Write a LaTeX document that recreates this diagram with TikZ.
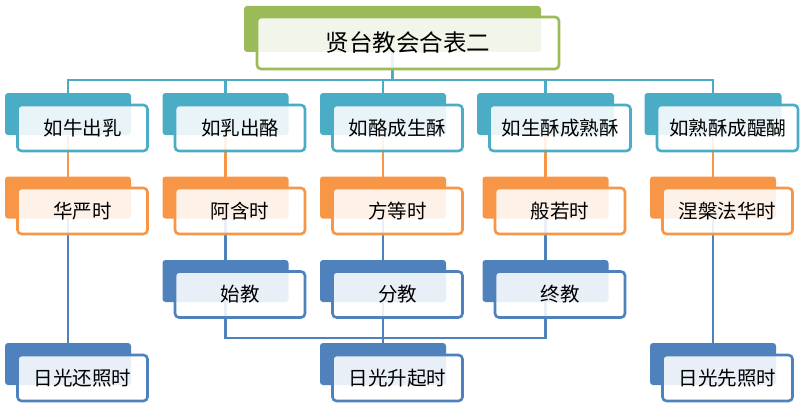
\documentclass[tikz,border=0pt]{standalone}
\usepackage{fontspec}
\newfontfamily\cjk{Noto Sans CJK SC}
\usetikzlibrary{backgrounds}
\definecolor{cteal}{HTML}{4BACC6}
\definecolor{corange}{HTML}{F79646}
\definecolor{cblue}{HTML}{4F81BD}
\definecolor{cgreen}{HTML}{9BBB59}
\begin{document}
\begin{tikzpicture}[x=1pt,y=-1pt,
  tabbox/.style={fill=#1, draw=none, rounded corners=3pt, minimum height=42pt, inner sep=0pt},
  frontbox/.style={draw=#1, fill=white, fill opacity=0.88, text opacity=1, line width=2.6pt,
    rounded corners=4pt, minimum height=46pt, inner sep=0pt, font=\cjk\fontsize{19.5}{22}\selectfont},
  link/.style={draw=#1, line width=2.6pt}]
\useasboundingbox (0,0) rectangle (800,412);
% title
\node[tabbox=cgreen, minimum width=297pt, minimum height=46pt] (tt) at (392.5,29) {};
\node[frontbox=cgreen, minimum width=302pt, minimum height=52pt,
  font=\cjk\fontsize{23.5}{26}\selectfont] (title) at ([shift={(15.5,14)}]tt.center) {贤台教会合表二};
% top row
\foreach \i/\x/\w/\t in {1/68/126/如牛出乳,2/225.5/126/如乳出酪,3/383/126/如酪成生酥,4/545.5/137/如生酥成熟酥,5/713/137/如熟酥成醍醐}{
  \node[tabbox=cteal, minimum width=\w*1pt] (ta\i) at (\x,114) {};
  \node[frontbox=cteal, minimum width={(\w+4)*1pt}] (a\i) at ([shift={(14.5,14)}]ta\i.center) {\t};
}
% orange row
\foreach \i/\x/\t in {1/68/华严时,2/225.5/阿含时,3/383/方等时,4/545.5/般若时,5/713/涅槃法华时}{
  \node[tabbox=corange, minimum width=126pt] (tb\i) at (\x,197.5) {};
  \node[frontbox=corange, minimum width=130pt] (b\i) at ([shift={(14.5,13.5)}]tb\i.center) {\t};
}
% blue middle row
\foreach \i/\x/\t in {2/225.5/始教,3/383/分教,4/545.5/终教}{
  \node[tabbox=cblue, minimum width=126pt] (tc\i) at (\x,281) {};
  \node[frontbox=cblue, minimum width=130pt] (c\i) at ([shift={(14.5,13.5)}]tc\i.center) {\t};
}
% bottom row
\foreach \i/\x/\t in {1/68/日光还照时,3/383/日光升起时,5/713/日光先照时}{
  \node[tabbox=cblue, minimum width=126pt] (td\i) at (\x,364) {};
  \node[frontbox=cblue, minimum width=130pt] (d\i) at ([shift={(14.5,14)}]td\i.center) {\t};
}
\begin{pgfonlayer}{background}
  \coordinate (bus) at (392.5,80);
  \draw[link=cteal] (tt.center) -- (bus);
  \foreach \i in {1,...,5}{
    \draw[link=cteal] (ta\i.center) |- (bus);
    \draw[link=corange] (ta\i.center) -- (tb\i.center);
  }
  \draw[link=cblue] (tb1.center) -- (td1.center);
  \draw[link=cblue] (tb5.center) -- (td5.center);
  \foreach \i in {2,3,4}{
    \draw[link=cblue] (tb\i.center) -- (tc\i.center);
  }
  \coordinate (bk) at (383,338);
  \draw[link=cblue] (tc2.center) |- (bk);
  \draw[link=cblue] (tc4.center) |- (bk);
  \draw[link=cblue] (tc3.center) -- (td3.center);
\end{pgfonlayer}
\end{tikzpicture}
\end{document}
